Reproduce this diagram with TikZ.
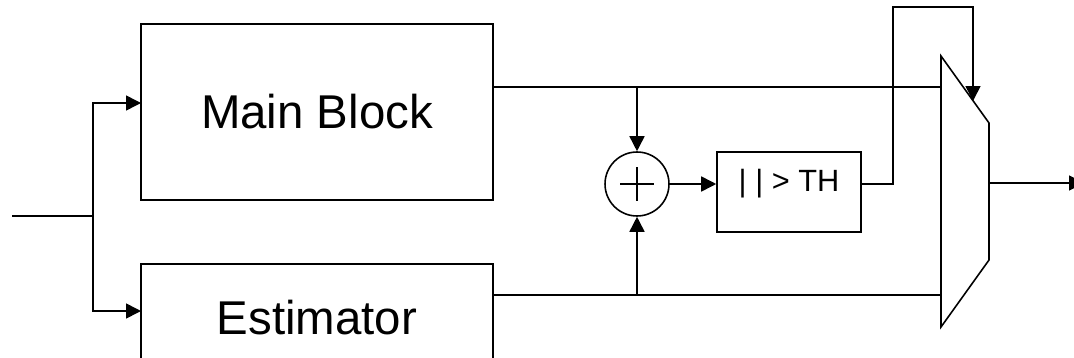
\documentclass[tikz,border=0pt]{standalone}
\usepackage{fontspec}
\setmainfont{Liberation Sans}
\usetikzlibrary{arrows.meta,positioning,calc}

\begin{document}
\begin{tikzpicture}[
  x=0.02cm, y=-0.02cm,
  line width=0.9pt,
  blk/.style={draw, rectangle, inner sep=0pt},
  sumnode/.style={draw, circle, minimum size=1.28cm, inner sep=0pt},
  arr/.style={-{Triangle[length=0.3cm, width=0.3cm]}},
]
\clip (0,0) rectangle (1074,358);
% blocks
\node[blk, minimum width=7.04cm, minimum height=3.52cm, font=\fontsize{27}{30}\selectfont]
  (main) at (317,112) {Main Block};
\node[blk, minimum width=7.04cm, minimum height=2.16cm, font=\fontsize{27}{30}\selectfont]
  (est) at (317,318) {Estimator};
\node[sumnode] (sum) at (637,184) {};
\draw[line width=0.8pt] ($(sum)+(-17,0)$) -- ($(sum)+(17,0)$)
  ($(sum)+(0,-17)$) -- ($(sum)+(0,17)$);
\node[blk, minimum width=2.88cm, minimum height=1.6cm] (th) at (789,192) {};
\node[font=\fontsize{17.5}{20}\selectfont] (thlbl) at (789,184) {| | > TH};
% mux
\coordinate (mA) at (941,56);
\coordinate (mB) at (989,123);
\coordinate (mC) at (989,260);
\coordinate (mD) at (941,327);
\draw (mA) -- (mB) -- (mC) -- (mD) -- cycle;
% input split
\coordinate (in) at (12,216);
\coordinate (split) at (93,216);
\draw (in) -- (split);
\draw[arr] (split) |- (141,103);
\draw[arr] (split) |- (141,311);
% data paths
\coordinate (mainout) at (493,87);
\coordinate (estout) at (493,295);
\coordinate (tapA) at (637,87);
\coordinate (tapB) at (637,295);
\draw (mainout) -- (mainout -| mA);
\draw (estout) -- (estout -| mA);
\draw[arr] (tapA) -- (sum.north);
\draw[arr] (tapB) -- (sum.south);
\draw[arr] (sum.east) -- (sum -| th.west);
% select line
\coordinate (sel) at (973,101);
\draw[arr] (th.east |- sum) -- (893,184) -- (893,7) -- (973,7) -- (sel);
% output
\coordinate (out) at (1084,183);
\draw[arr] (989,183) -- (out);
\end{tikzpicture}
\end{document}
